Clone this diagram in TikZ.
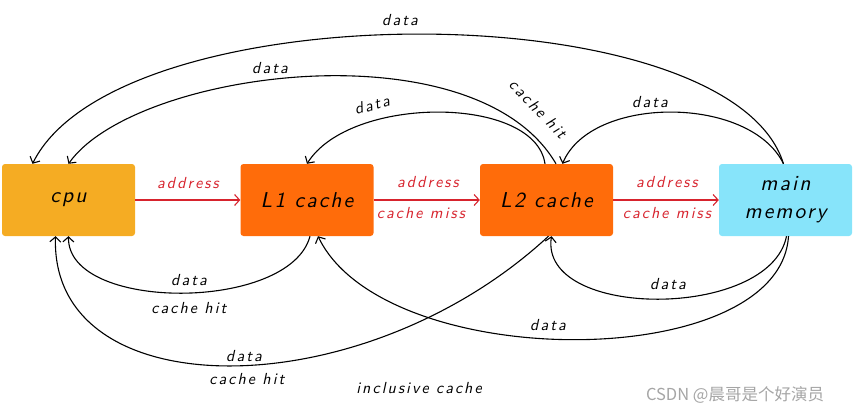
\documentclass[tikz,border=0pt]{standalone}
\usepackage{fontspec}
\usetikzlibrary{arrows.meta,calc}
\newfontfamily\hand[LetterSpace=13]{lmsans10-oblique.otf}
\newfontfamily\handbox[LetterSpace=10]{lmsans10-oblique.otf}
\newfontfamily\cjkfont{Noto Sans CJK SC}
\definecolor{cpuc}{RGB}{245,172,35}
\definecolor{cachec}{RGB}{255,108,10}
\definecolor{memc}{RGB}{135,228,250}
\definecolor{redc}{RGB}{215,35,45}
\definecolor{wmc}{RGB}{165,165,165}
\begin{document}
\begin{tikzpicture}[x=1pt,y=-1pt,
  box/.style={draw=none, minimum width=133pt, minimum height=72pt, inner sep=0pt, rounded corners=3pt, align=center, font=\handbox\fontsize{21.5}{28}\selectfont},
  lbl/.style={font=\hand\fontsize{16}{18}\selectfont, inner sep=1pt},
  redlbl/.style={lbl, text=redc},
  flow/.style={-{Straight Barb[length=5pt,width=11pt]}, line width=1.1pt},
  req/.style={flow, draw=redc}]
\useasboundingbox (0,0) rectangle (855,415);

% boxes
\node[box, fill=cpuc]   (cpu) at (68.5,200) {cpu};
\node[box, fill=cachec] (L1)  at (307,200)  {L1 cache};
\node[box, fill=cachec] (L2)  at (546.5,200) {L2 cache};
\node[box, fill=memc]   (mem) at (785.5,200) {main\\memory};

% requests
\draw[req] (cpu.east) -- (L1.west);
\draw[req] (L1.east) -- (L2.west);
\draw[req] (L2.east) -- (mem.west);
\node[redlbl] (a1) at (188,183) {address};
\node[redlbl] (a2) at (428,182) {address};
\node[redlbl] (m2) at (421,213) {cache miss};
\node[redlbl] (a3) at (667,182) {address};
\node[redlbl] (m3) at (667,213) {cache miss};

% top data paths
\draw[flow] ([xshift=-2pt]mem.north) .. controls (730,-9) and (118,-9) .. ([xshift=-36pt]cpu.north);
\draw[flow] ([xshift=9.5pt]L2.north) .. controls (475,25) and (135,70) .. ([xshift=0pt]cpu.north);
\draw[flow] ([xshift=-1.5pt]L2.north) .. controls (535,95) and (350,95) .. ([xshift=0pt]L1.north);
\draw[flow] ([xshift=-2pt]mem.north) .. controls (750,95) and (591,95) .. ([xshift=16pt]L2.north);
\node[lbl] (d1) at (400,20) {data};
\node[lbl] (d2) at (270,68) {data};
\node[lbl, rotate=-46] (h2) at (538,109) {cache hit};
\node[lbl, rotate=14] (d3) at (372,105) {data};
\node[lbl] (d4) at (650,102) {data};

% bottom data paths
\draw[flow] ([xshift=3pt]L1.south) .. controls (290,312) and (67,312) .. ([xshift=0pt]cpu.south);
\draw[flow] ([xshift=2pt]L2.south) .. controls (362,409) and (50,409) .. ([xshift=-13pt]cpu.south);
\draw[flow] ([xshift=3pt]mem.south) .. controls (780,374) and (384,374) .. ([xshift=11pt]L1.south);
\draw[flow] ([xshift=1pt]mem.south) .. controls (770,320) and (539,320) .. ([xshift=5pt]L2.south);
\node[lbl] (d5) at (189,280) {data};
\node[lbl] (h5) at (189,308) {cache hit};
\node[lbl] (d6) at (244,356) {data};
\node[lbl] (h6) at (247,379) {cache hit};
\node[lbl] (d7) at (548,325) {data};
\node[lbl] (d8) at (668,284) {data};
\node[lbl] (inc) at (419,388) {inclusive cache};

\node[text=wmc, font=\cjkfont\fontsize{16.5}{18}\selectfont, inner sep=0pt] (wm) at (735,395) {CSDN @晨哥是个好演员};
\end{tikzpicture}
\end{document}
